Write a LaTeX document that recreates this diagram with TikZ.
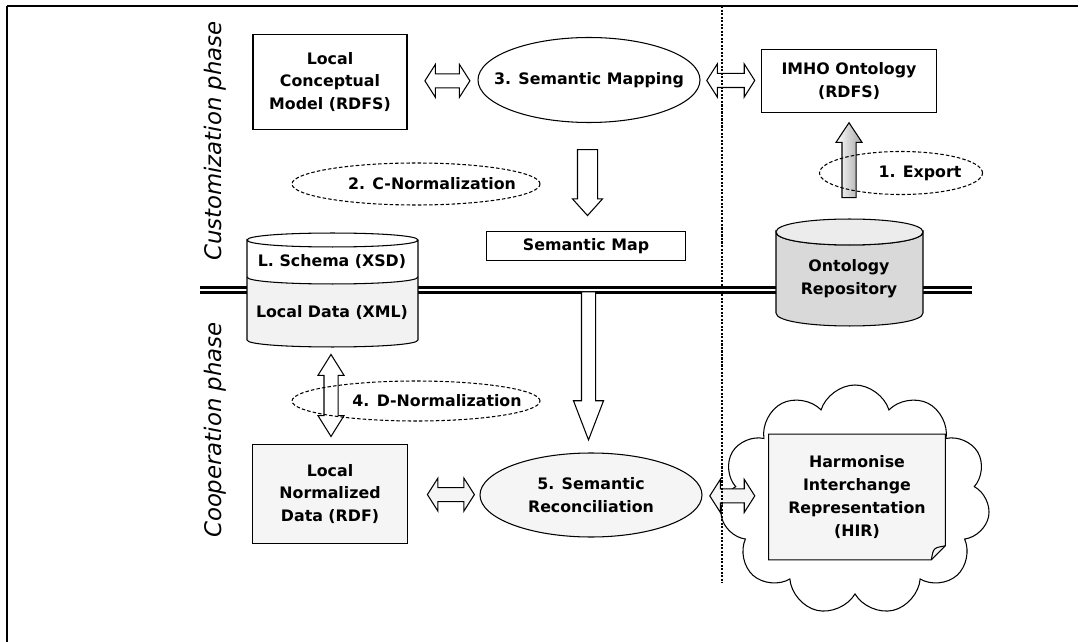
\documentclass[tikz,border=0pt]{standalone}
\usepackage{fontspec}
\setmainfont{DejaVu Sans}
\usetikzlibrary{calc,shapes.geometric,shapes.arrows,shapes.symbols}
\newcommand\boxfont{\fontsize{9}{13}\selectfont\bfseries}
\newcommand\phasefont{\fontsize{13}{14}\selectfont\itshape}
\tikzset{
  box/.style={draw,semithick,align=center,font=\boxfont,inner sep=0pt},
  ell/.style={ellipse,draw,semithick,inner sep=0pt},
  dell/.style={ellipse,draw,semithick,dash pattern=on 2pt off 1.2pt,inner sep=0pt},
  lr/.style={double arrow,draw,semithick,fill=white,inner xsep=0pt,inner ysep=1.3mm,
    double arrow head extend=1.9mm,double arrow tip angle=115,minimum height=9mm},
  ud/.style={double arrow,draw,semithick,fill=white,inner xsep=0pt,inner ysep=1.3mm,
    double arrow head extend=1.2mm,double arrow tip angle=64,rotate=90},
  dn/.style={single arrow,draw,semithick,fill=white,inner xsep=0pt,rotate=-90},
  lbl/.style={font=\boxfont,align=center},
}

\begin{document}
\begin{tikzpicture}[x=0.2mm,y=-0.2mm]
	\useasboundingbox (0,0) rectangle (1084,642);
	\draw[line width=1.3pt] (7,6)--(1078,6); %上の枠
	\draw[line width=0.7pt] (7,6)--(7,642); %左の枠
	\draw[double,double distance=1.5pt,line width=1.3pt] (200,290)--(972,290); %境界線

	% 左の円柱
	\fill[gray!10] (247,277) .. controls (247,286.3) and (418,286.3) .. (418,277)--(418,340) .. controls (418,349.3) and (247,349.3) .. (247,340)--cycle;
	\fill[white] (247,240) .. controls (247,230.7) and (418,230.7) .. (418,240)--(418,277) .. controls (418,286.3) and (247,286.3) .. (247,277)--cycle;
	\draw[semithick] (247,240) .. controls (247,230.7) and (418,230.7) .. (418,240) .. controls (418,249.3) and (247,249.3) .. (247,240)--(247,340) .. controls (247,349.3) and (418,349.3) .. (418,340)--(418,240);
	\draw[semithick] (247,277) .. controls (247,286.3) and (418,286.3) .. (418,277);
	\node[lbl] (xsd) at (332,262) {L. Schema (XSD)};
	\node[lbl] (xml) at (332,313) {Local Data (XML)};
	\coordinate (ldb) at (332,347);

	% 右の円柱
	\draw[semithick,fill=gray!30] (776,232)--(776,313) .. controls (776,330.3) and (923,330.3) .. (923,313)--(923,232) .. controls (923,249.3) and (776,249.3) .. (776,232)--cycle;
	\draw[semithick,fill=gray!15] (776,232) .. controls (776,214.7) and (923,214.7) .. (923,232) .. controls (923,249.3) and (776,249.3) .. (776,232)--cycle;
	\node[lbl] (repo) at (849,279) {Ontology\\Repository};
	\coordinate (rtop) at (849,218);

	\node[box,minimum width=30.8mm,minimum height=19mm] (lcm) at (330,82) {Local\\Conceptual\\Model (RDFS)};
	\node[ell,fill=white,minimum width=44.4mm,minimum height=17mm,label={[lbl]center:3. Semantic Mapping}] (map) at (589,80) {};
	\node[box,minimum width=35mm,minimum height=12.6mm] (imho) at (849,81) {IMHO Ontology\\(RDFS)};
	\node[box,minimum width=39.8mm,minimum height=5.8mm] (smap) at (586,246) {Semantic Map};
	\node[box,fill=gray!8,minimum width=31mm,minimum height=19.8mm] (lnd) at (330,494) {Local\\Normalized\\Data (RDF)};
	\node[ell,fill=gray!8,minimum width=44.4mm,minimum height=16.8mm,label={[lbl]center:5. Semantic\\Reconciliation}] (rec) at (591,495) {};

	% 雲とHIR
	\node[cloud,draw,semithick,fill=white,cloud puffs=11,cloud puff arc=145,aspect=1.2,inner sep=0pt,
		minimum width=54mm,minimum height=46mm] (cld) at (855,500) {};
	\path (857,497) node[minimum width=35.2mm,minimum height=25mm,inner sep=0pt] (hir) {};
	\draw[semithick,fill=gray!8] (hir.north west)--(hir.north east)--($(hir.south east)+(0,-14)$)
		.. controls ($(hir.south east)+(-8,-6)$) .. ($(hir.south east)+(-14,0)$)--(hir.south west)--cycle;
	\draw[semithick] ($(hir.south east)+(0,-14)$) .. controls ($(hir.south east)+(-12,-12)$) .. ($(hir.south east)+(-14,0)$);
	\node[lbl] (hirt) at (hir.center) {Harmonise\\Interchange\\Representation\\(HIR)};

	% 矢印
	\node[lr] (a1) at ($(lcm.east)!.57!(map.west)$) {};
	\node[lr,minimum height=9.6mm] (a2) at ($(map.east)!.5!(imho.west)$) {};
	\node[dn,minimum height=13.2mm,inner ysep=1.9mm,single arrow head extend=1mm,single arrow tip angle=84] (a3) at ($(map.south)!.5!(smap.north)$) {};
	\node[dn,minimum height=29.6mm,inner ysep=1.3mm,single arrow head extend=1.6mm,single arrow tip angle=42] (a4) at ($(smap.south)!.5!(rec.north)$) {};
	\node[single arrow,draw,semithick,inner xsep=0pt,rotate=90,left color=white,right color=gray!70,
		minimum height=15mm,inner ysep=1.3mm,single arrow head extend=1.2mm,single arrow tip angle=67] (a5) at ($(imho.south)!.5!(rtop)$) {};
	\node[ud,minimum height=16.4mm] (a6) at ($(ldb)!.5!(lnd.north)$) {};
	\node[lr,fill=gray!8,minimum height=9.4mm] (a7) at ($(lnd.east)!.6!(rec.west)$) {};
	\node[lr,fill=gray!8] (a8) at ($(rec.east)!.45!(hir.west)$) {};

	% 点線の楕円
	\node[dell,minimum width=49.6mm,minimum height=8.4mm,label={[lbl,xshift=3.2mm]center:2. C-Normalization}] (cn) at (416,184) {};
	\node[dell,minimum width=49.6mm,minimum height=8mm,label={[lbl,xshift=4.2mm]center:4. D-Normalization}] (dn) at (416,401) {};
	\node[dell,minimum width=32.6mm,minimum height=8.6mm,label={[lbl,xshift=3.8mm]center:1. Export}] (ex) at (901,173) {};

	\draw[semithick,dash pattern=on 1.2pt off 0.8pt] (722,6)--(722,583); %縦の点線

	\node[rotate=90,font=\phasefont] (cust) at (215,141) {Customization phase};
	\node[rotate=90,font=\phasefont] (coop) at (215,430) {Cooperation phase};
\end{tikzpicture}
\end{document}
